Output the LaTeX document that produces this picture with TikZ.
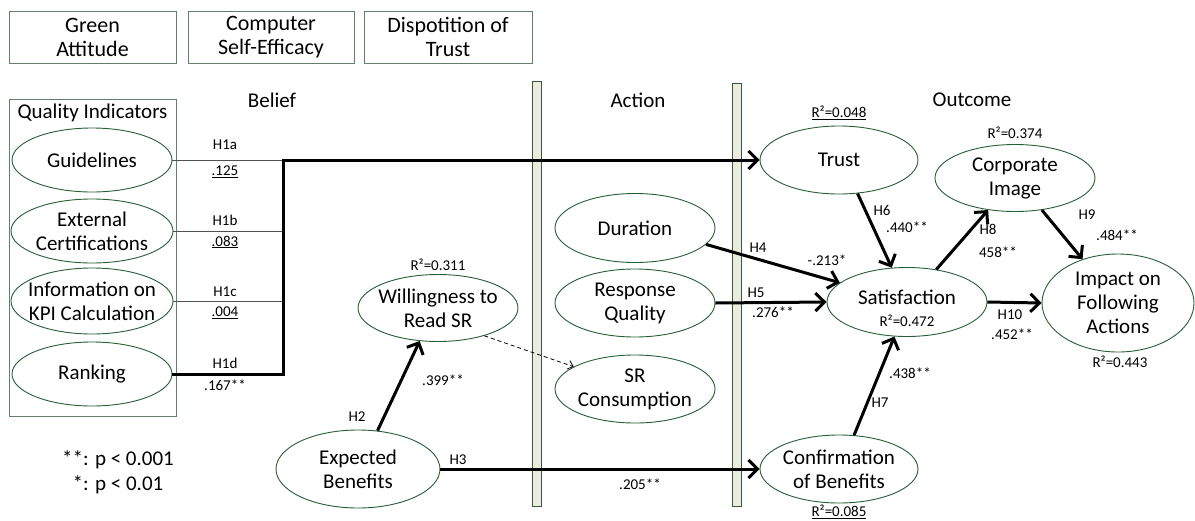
\documentclass[tikz,border=0pt]{standalone}
\usepackage{fontspec}
\setmainfont{Carlito}
\usetikzlibrary{shapes.geometric,arrows.meta}
\definecolor{ellgreen}{RGB}{38,94,54}
\definecolor{boxgreen}{RGB}{96,128,108}
\definecolor{barfill}{RGB}{236,236,222}
\definecolor{bardraw}{RGB}{52,90,60}
\definecolor{thinline}{RGB}{80,80,80}

\begin{document}
\begin{tikzpicture}[x=1pt,y=-1pt,
  big/.style={font=\fontsize{21}{24}\selectfont, align=center, inner sep=0pt},
  small/.style={font=\fontsize{15}{18}\selectfont, inner sep=0pt},
  ell/.style={ellipse, draw=ellgreen, line width=0.9pt, inner sep=0pt},
  framebox/.style={draw=boxgreen, line width=1pt},
  topbox/.style={framebox, align=center, inner sep=0pt, font=\fontsize{22}{24}\selectfont, minimum height=52pt},
  bar/.style={fill=barfill, draw=bardraw, line width=1pt},
  heavy/.style={line width=3pt, line join=miter},
  heavyarrow/.style={heavy, -{Straight Barb[length=9pt,width=18pt]}},
  thin/.style={draw=thinline, line width=1pt},
  hint/.style={line width=0.8pt, dashed, dash pattern=on 4pt off 3pt, -{Straight Barb[length=5pt,width=9pt]}}
]
\useasboundingbox (0,0) rectangle (1195,520);

% ---- context boxes across the top
\node[topbox, minimum width=167pt] (ga) at (92.5,37) {Green\\Attitude};
\node[topbox, minimum width=166pt] (cse) at (271,37) {Computer\\Self-Efficacy};
\node[topbox, minimum width=168pt] (dot) at (448,37) {Dispotition of\\Trust};

% ---- stage headings
\node[big] (belief) at (272,100) {Belief};
\node[big] (action) at (638,100) {Action};
\node[big] (outcome) at (972,100) {Outcome};

% ---- separators between stages
\draw[bar] (532,81) rectangle (541,506);
\draw[bar] (732,83) rectangle (741,506);

% ---- quality indicators group
\draw[framebox] (9,99) rectangle (176,416);
\node[big] (qi) at (92.5,113) {Quality Indicators};

\node[ell, minimum width=160pt, minimum height=64pt] (g) at (92,160) {};
\node[big] (g-t) at (g) {Guidelines};
\node[ell, minimum width=162pt, minimum height=64pt] (ec) at (92,231) {};
\node[big] (ec-t) at (ec) {External\\Certifications};
\node[ell, minimum width=162pt, minimum height=66pt] (kpi) at (92,301) {};
\node[big] (kpi-t) at (kpi) {Information on\\KPI Calculation};
\node[ell, minimum width=160pt, minimum height=64pt] (rk) at (92,374) {};
\node[big] (rk-t) at (rk) {Ranking};

% ---- remaining constructs
\node[ell, minimum width=160pt, minimum height=67pt] (wil) at (438,308) {};
\node[big] (wil-t) at (wil) {Willingness to\\Read SR};
\node[ell, minimum width=164pt, minimum height=78pt] (eb) at (358,469) {};
\node[big] (eb-t) at (eb) {Expected\\Benefits};
\node[ell, minimum width=160pt, minimum height=69pt] (dur) at (635,228) {};
\node[big] (dur-t) at (dur) {Duration};
\node[ell, minimum width=160pt, minimum height=68pt] (rq) at (635,303) {};
\node[big] (rq-t) at (rq) {Response\\Quality};
\node[ell, minimum width=160pt, minimum height=68pt] (src) at (635,389) {};
\node[big] (src-t) at (src) {SR\\Consumption};
\node[ell, minimum width=158pt, minimum height=68pt] (tr) at (839,160) {};
\node[big] (tr-t) at (tr) {Trust};
\node[ell, minimum width=160pt, minimum height=67pt] (ci) at (1015,178) {};
\node[big] (ci-t) at (ci) {Corporate\\Image};
\node[ell, minimum width=160pt, minimum height=69pt] (sat) at (907,302) {};
\node[big] (sat-t) at (907,297) {Satisfaction};
\node[ell, minimum width=152pt, minimum height=98pt] (imp) at (1118,303) {};
\node[big] (imp-t) at (imp) {Impact on\\Following\\Actions};
\node[ell, minimum width=158pt, minimum height=68pt] (cob) at (839,469) {};
\node[big] (cob-t) at (cob) {Confirmation\\of Benefits};

% ---- paths from the quality indicators
\coordinate (jt) at (283,160);
\draw[thin] (g.east) -- (jt);
\draw[thin] (ec.east) -- (ec.east -| jt);
\draw[thin] (kpi.east) -- (kpi.east -| jt);
\draw[heavyarrow] (rk.east) -| (jt) -- (tr.west);

% ---- structural paths
\draw[heavyarrow] (eb.63) -- (wil.241);
\draw[hint] (wil.-31) -- (src.160);
\draw[heavyarrow] (eb.east) -- (cob.west);
\draw[heavyarrow] (dur.-13) -- (sat.164);
\draw[heavyarrow] (rq.east) -- (sat.west);
\draw[heavyarrow] (tr.-61) -- (sat.114);
\draw[heavyarrow] (cob.66) -- (sat.-110);
\draw[heavyarrow] (sat.48) -- (ci.-130);
\draw[heavyarrow] (ci.-50) -- (imp.129);
\draw[heavyarrow] (sat.east) -- (imp.west);

% ---- path labels and coefficients
\node[small] (l1a) at (225,145) {H1a};
\node[small] (c1a) at (225,172) {\underline{.125}};
\node[small] (l1b) at (225,220) {H1b};
\node[small] (c1b) at (225,242) {\underline{.083}};
\node[small] (l1c) at (225,292) {H1c};
\node[small] (c1c) at (225,313) {\underline{.004}};
\node[small] (l1d) at (225,363) {H1d};
\node[small] (c1d) at (225,385) {.167**};
\node[small] (l2) at (357,417) {H2};
\node[small] (c2) at (443,380) {.399**};
\node[small] (l3) at (458,460) {H3};
\node[small] (c3) at (640,484) {.205**};
\node[small] (l4) at (758,248) {H4};
\node[small] (c4) at (827,260) {-.213*};
\node[small] (l5) at (756,293) {H5};
\node[small] (c5) at (773,312) {.276**};
\node[small] (l6) at (882,210) {H6};
\node[small] (c6) at (907,227) {.440**};
\node[small] (l7) at (880,403) {H7};
\node[small] (c7) at (910,373) {.438**};
\node[small] (l8) at (988,229) {H8};
\node[small] (c8) at (998,252) {458**};
\node[small] (l9) at (1087,215) {H9};
\node[small] (c9) at (1117,235) {.484**};
\node[small] (l10) at (1010,315) {H10};
\node[small] (c10) at (1012,334) {.452**};

% ---- explained variance
\node[small] (r-wil) at (438,265) {R²=0.311};
\node[small] (r-tr) at (839,113) {\underline{R²=0.048}};
\node[small] (r-ci) at (1015,133) {R²=0.374};
\node[small] (r-sat) at (907,321) {R²=0.472};
\node[small] (r-imp) at (1120,362) {R²=0.443};
\node[small] (r-cob) at (839,512) {\underline{R²=0.085}};

% ---- significance legend
\node[big] (sig2) at (118,460) {**: p < 0.001};
\node[big] (sig1) at (118,485) {*: p < 0.01};
\end{tikzpicture}
\end{document}
